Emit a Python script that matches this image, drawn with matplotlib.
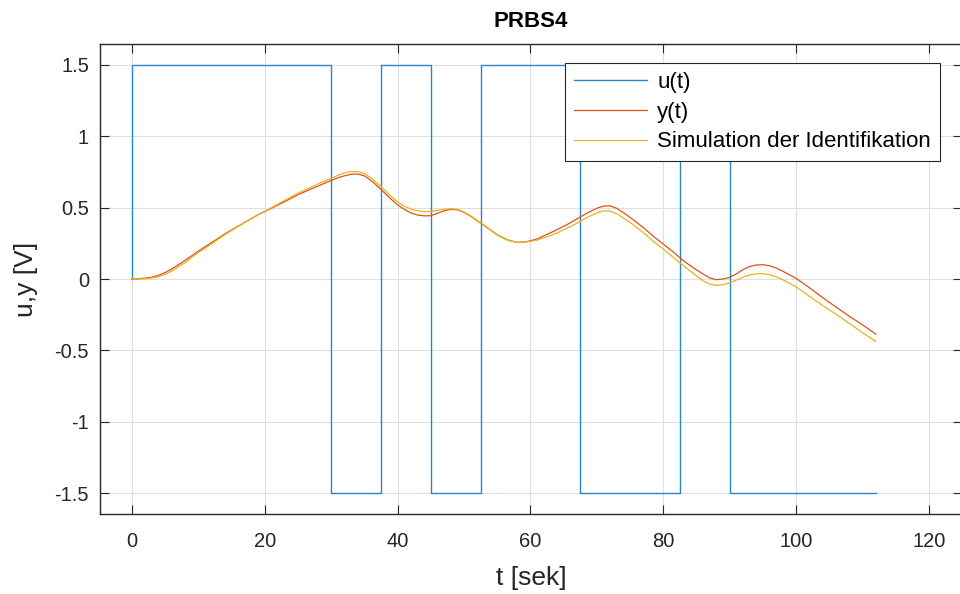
import matplotlib
matplotlib.use("Agg")
import matplotlib.pyplot as plt

plt.rcParams['font.family'] = ['Liberation Sans', 'DejaVu Sans']
plt.rcParams['axes.unicode_minus'] = False

# PRBS input: switching instants and levels
u_t = [0, 0, 30, 30, 37.5, 37.5, 45, 45, 52.5, 52.5, 67.5, 67.5, 82.5, 82.5, 90, 90, 112]
u_v = [0, 1.5, 1.5, -1.5, -1.5, 1.5, 1.5, -1.5, -1.5, 1.5, 1.5, -1.5, -1.5, 1.5, 1.5, -1.5, -1.5]

# measured output y(t) and simulated model output, sampled at t_out
t_out = [0, 1, 2, 3, 4, 5, 6, 7, 8, 9, 10,
         11.5, 13, 14.5, 16, 17.5, 19, 20.5, 22, 23.5, 25, 26.5, 28, 29.5,
         30, 31, 32, 33, 34, 35, 36, 37, 38, 39, 40, 41, 42, 43, 44, 45, 46,
         47, 48, 49, 50, 51, 52,
         53.5, 55, 56.5, 58, 59.5, 61, 62.5, 64, 65.5, 67, 68.5, 70,
         71, 72, 73, 74,
         75.5, 77, 78.5, 80, 81.5, 83, 84.5, 86,
         87, 88, 89, 90, 91, 92, 93, 94, 95, 96, 97, 98, 99, 100,
         102, 104, 106, 108, 110, 112]
y_meas = [0, 0.002, 0.006, 0.013, 0.025, 0.045, 0.07, 0.1, 0.13, 0.162, 0.195,
          0.24, 0.285, 0.33, 0.37, 0.41, 0.45, 0.483, 0.518, 0.553, 0.59, 0.62, 0.65, 0.68,
          0.69, 0.708, 0.722, 0.733, 0.735, 0.722, 0.69, 0.65, 0.605, 0.56, 0.52, 0.488,
          0.463, 0.448, 0.442, 0.443, 0.46, 0.477, 0.487, 0.485, 0.467, 0.44, 0.407,
          0.36, 0.31, 0.275, 0.256, 0.262, 0.28, 0.312, 0.345, 0.38, 0.42, 0.46, 0.495,
          0.51, 0.512, 0.495, 0.465,
          0.415, 0.36, 0.3, 0.245, 0.19, 0.13, 0.08, 0.035,
          0.008, -0.005, 0.0, 0.011, 0.035, 0.065, 0.087, 0.098, 0.1, 0.093, 0.077,
          0.055, 0.03, 0.005,
          -0.06, -0.13, -0.195, -0.26, -0.32, -0.385]
y_sim = [0, 0.0, 0.002, 0.007, 0.015, 0.033, 0.055, 0.085, 0.115, 0.15, 0.185,
         0.23, 0.278, 0.325, 0.368, 0.41, 0.45, 0.485, 0.525, 0.563, 0.6, 0.632, 0.665, 0.695,
         0.705, 0.725, 0.742, 0.752, 0.752, 0.738, 0.708, 0.668, 0.625, 0.58, 0.54, 0.51,
         0.49, 0.478, 0.472, 0.473, 0.48, 0.488, 0.492, 0.488, 0.47, 0.443, 0.41,
         0.36, 0.308, 0.273, 0.255, 0.26, 0.272, 0.295, 0.322, 0.355, 0.39, 0.43, 0.462,
         0.477, 0.475, 0.457, 0.428,
         0.38, 0.325, 0.265, 0.21, 0.152, 0.095, 0.04, -0.012,
         -0.035, -0.045, -0.04, -0.028, -0.008, 0.012, 0.028, 0.036, 0.037, 0.03, 0.015,
         -0.005, -0.03, -0.055,
         -0.12, -0.185, -0.245, -0.31, -0.375, -0.437]

x_ticks = [0, 20, 40, 60, 80, 100, 120]
y_ticks = [-1.5, -1, -0.5, 0, 0.5, 1, 1.5]
y_ticklabels = ['-1.5', '-1', '-0.5', '0', '0.5', '1', '1.5']

fig = plt.figure(figsize=(9.6, 5.94), dpi=100)
ax = fig.add_axes([100 / 960, 80 / 594, 862 / 960, 470 / 594])

ax.plot(u_t, u_v, color='#2a86c8', lw=1.0, label='u(t)')
ax.plot(t_out, y_meas, color='#D95319', lw=0.9, label='y(t)')
ax.plot(t_out, y_sim, color='#EDB120', lw=0.9, label='Simulation der Identifikation')

ax.set_xlim(-4.8, 125)
ax.set_ylim(-1.645, 1.645)
ax.set_xticks(x_ticks)
ax.set_yticks(y_ticks)
ax.set_yticklabels(y_ticklabels)

ax.grid(True, color='#dfdfdf', lw=0.8)
ax.set_axisbelow(True)
for s in ax.spines.values():
    s.set_color('#262626')
    s.set_linewidth(1.0)
ax.tick_params(direction='in', length=6.5, width=0.8, colors='#262626',
               labelsize=14.5, top=True, right=True)
ax.tick_params(axis='x', pad=13)
ax.tick_params(axis='y', pad=8)

ax.set_title('PRBS4', fontsize=16, fontweight='bold', pad=12)
ax.set_xlabel('t [sek]', fontsize=19, color='#262626', labelpad=11)
ax.set_ylabel('u,y [V]', fontsize=19, color='#262626', labelpad=12)

leg = ax.legend(loc='upper right', bbox_to_anchor=(0.9745, 0.96), borderaxespad=0,
                fontsize=16, fancybox=False, framealpha=1, edgecolor='#262626',
                handlelength=3.3, labelspacing=0.4, borderpad=0.4, handletextpad=0.45)
leg.get_frame().set_linewidth(0.8)

fig.savefig('out.png', dpi=100)
